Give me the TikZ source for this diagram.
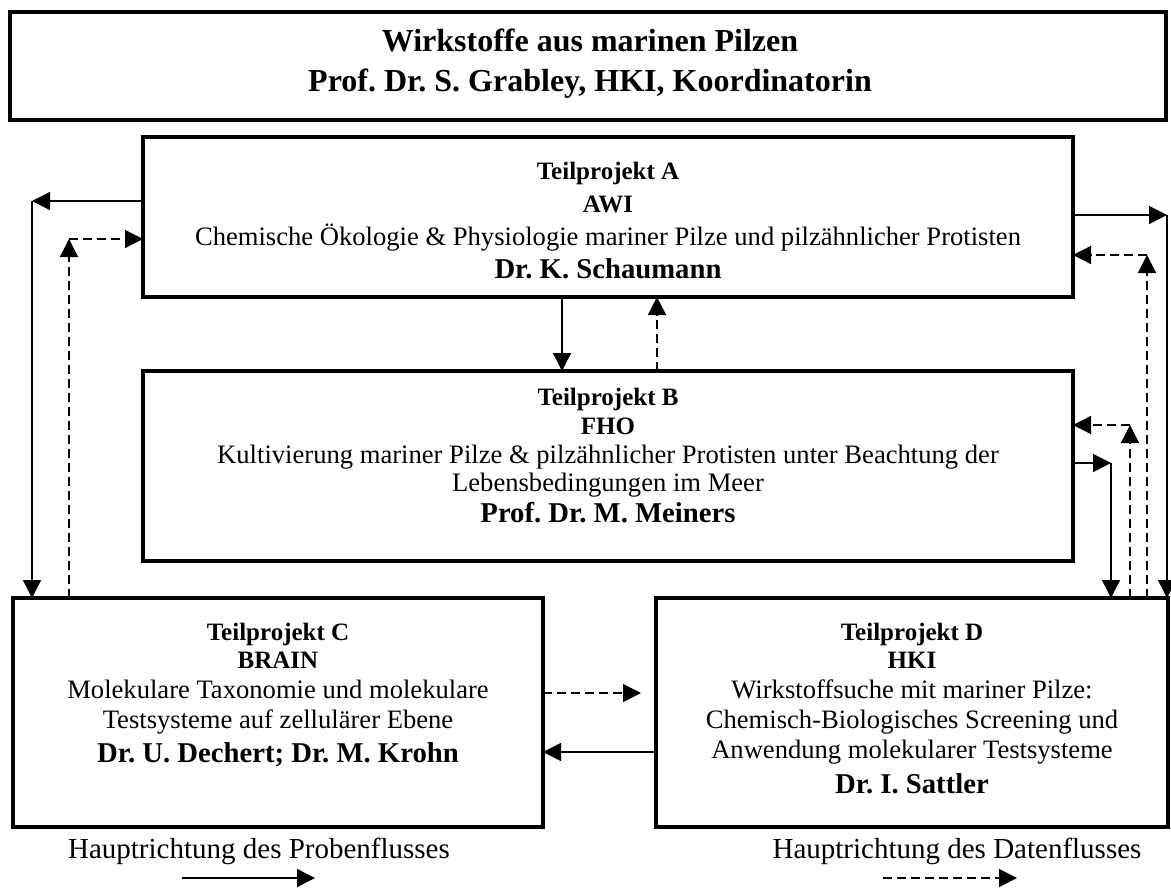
\documentclass[tikz,border=0pt]{standalone}
\usepackage{fontspec}
\setmainfont{Liberation Serif}
\usetikzlibrary{arrows.meta}
\frenchspacing
\begin{document}
\begin{tikzpicture}[x=1pt,y=-1pt,
  box/.style={draw, line width=3.5pt, inner sep=0pt, outer sep=0pt},
  ttl/.style={font=\fontsize{32}{34}\selectfont\bfseries, anchor=base},
  hd/.style={font=\fontsize{25}{27}\selectfont\bfseries, anchor=base},
  bd/.style={font=\fontsize{26.6}{28}\selectfont, anchor=base},
  nm/.style={font=\fontsize{28.7}{30}\selectfont\bfseries, anchor=base},
  lg/.style={font=\fontsize{29}{31}\selectfont, anchor=base},
  flow/.style={line width=1.4pt, -{Triangle[length=18pt,width=18pt]}},
  dflow/.style={flow, dash pattern=on 9pt off 5pt}]
\useasboundingbox (0,0) rectangle (1171,888);
% boxes
\node[box, minimum width=1156pt, minimum height=108pt] (T) at (588,66) {};
\node[box, minimum width=930pt, minimum height=160pt] (A) at (608,217) {};
\node[box, minimum width=930pt, minimum height=190pt] (B) at (608,466) {};
\node[box, minimum width=530pt, minimum height=229pt] (C) at (278,712.5) {};
\node[box, minimum width=512pt, minimum height=229pt] (D) at (912,712.5) {};
% title
\node[ttl] (t1) at (590,52) {Wirkstoffe aus marinen Pilzen};
\node[ttl] (t2) at (590,92) {Prof. Dr. S. Grabley, HKI, Koordinatorin};
% A
\node[hd] (a1) at (608,180) {Teilprojekt A};
\node[hd] (a2) at (608,212) {AWI};
\node[bd] (a3) at (608,245) {Chemische Ökologie \& Physiologie mariner Pilze und pilzähnlicher Protisten};
\node[nm] (a4) at (608,278) {Dr. K. Schaumann};
% B
\node[hd] (b1) at (608,405) {Teilprojekt B};
\node[hd] (b2) at (608,434) {FHO};
\node[bd] (b3) at (608,463) {Kultivierung mariner Pilze \& pilzähnlicher Protisten unter Beachtung der};
\node[bd] (b4) at (608,491) {Lebensbedingungen im Meer};
\node[nm] (b5) at (608,522) {Prof. Dr. M. Meiners};
% C
\node[hd] (c1) at (278,640) {Teilprojekt C};
\node[hd] (c2) at (278,668) {BRAIN};
\node[bd] (c3) at (278,698) {Molekulare Taxonomie und molekulare};
\node[bd] (c4) at (278,728) {Testsysteme auf zellulärer Ebene};
\node[nm] (c5) at (278,762) {Dr. U. Dechert; Dr. M. Krohn};
% D
\node[hd] (d1) at (912,640) {Teilprojekt D};
\node[hd] (d2) at (912,668) {HKI};
\node[bd] (d3) at (912,698) {Wirkstoffsuche mit mariner Pilze:};
\node[bd] (d4) at (912,728) {Chemisch-Biologisches Screening und};
\node[bd] (d5) at (912,758) {Anwendung molekularer Testsysteme};
\node[nm] (d6) at (912,793) {Dr. I. Sattler};
% legend
\node[lg] (l1) at (259,858) {Hauptrichtung des Probenflusses};
\node[lg] (l2) at (957,858) {Hauptrichtung des Datenflusses};
\coordinate (ls1) at (182,878);
\coordinate (ls2) at (315,878);
\coordinate (ld1) at (883,878);
\coordinate (ld2) at (1017,878);
\draw[flow] (ls1) -- (ls2);
\draw[dflow] (ld1) -- (ld2);
% left side
\coordinate (pL1) at (32,201);
\coordinate (pL2) at (69,239);
\draw[flow] (A.west |- pL1) -- (pL1);
\draw[flow] (pL1) -- (pL1 |- C.north);
\draw[dflow] (pL2 |- C.north) -- (pL2);
\draw[dflow] (pL2) -- (A.west |- pL2);
% middle
\coordinate (mS) at (562,0);
\coordinate (mD) at (657,0);
\draw[flow] (mS |- A.south) -- (mS |- B.north);
\draw[dflow] (mD |- B.north) -- (mD |- A.south);
% C <-> D
\coordinate (cd1) at (0,693);
\coordinate (cd2) at (0,752);
\draw[dflow, shorten >=15pt] (C.east |- cd1) -- (D.west |- cd1);
\draw[flow] (D.west |- cd2) -- (C.east |- cd2);
% right side
\coordinate (pR1) at (1167,215);
\coordinate (pR2) at (1147,255);
\coordinate (pR3) at (1130,425);
\coordinate (pR4) at (1111,463);
\draw[flow] (A.east |- pR1) -- (pR1);
\draw[flow] (pR1) -- (pR1 |- D.north);
\draw[dflow] (pR2 |- D.north) -- (pR2);
\draw[dflow] (pR2) -- (A.east |- pR2);
\draw[dflow] (pR3 |- D.north) -- (pR3);
\draw[dflow] (pR3) -- (B.east |- pR3);
\draw[flow] (B.east |- pR4) -- (pR4);
\draw[flow] (pR4) -- (pR4 |- D.north);
\end{tikzpicture}
\end{document}
